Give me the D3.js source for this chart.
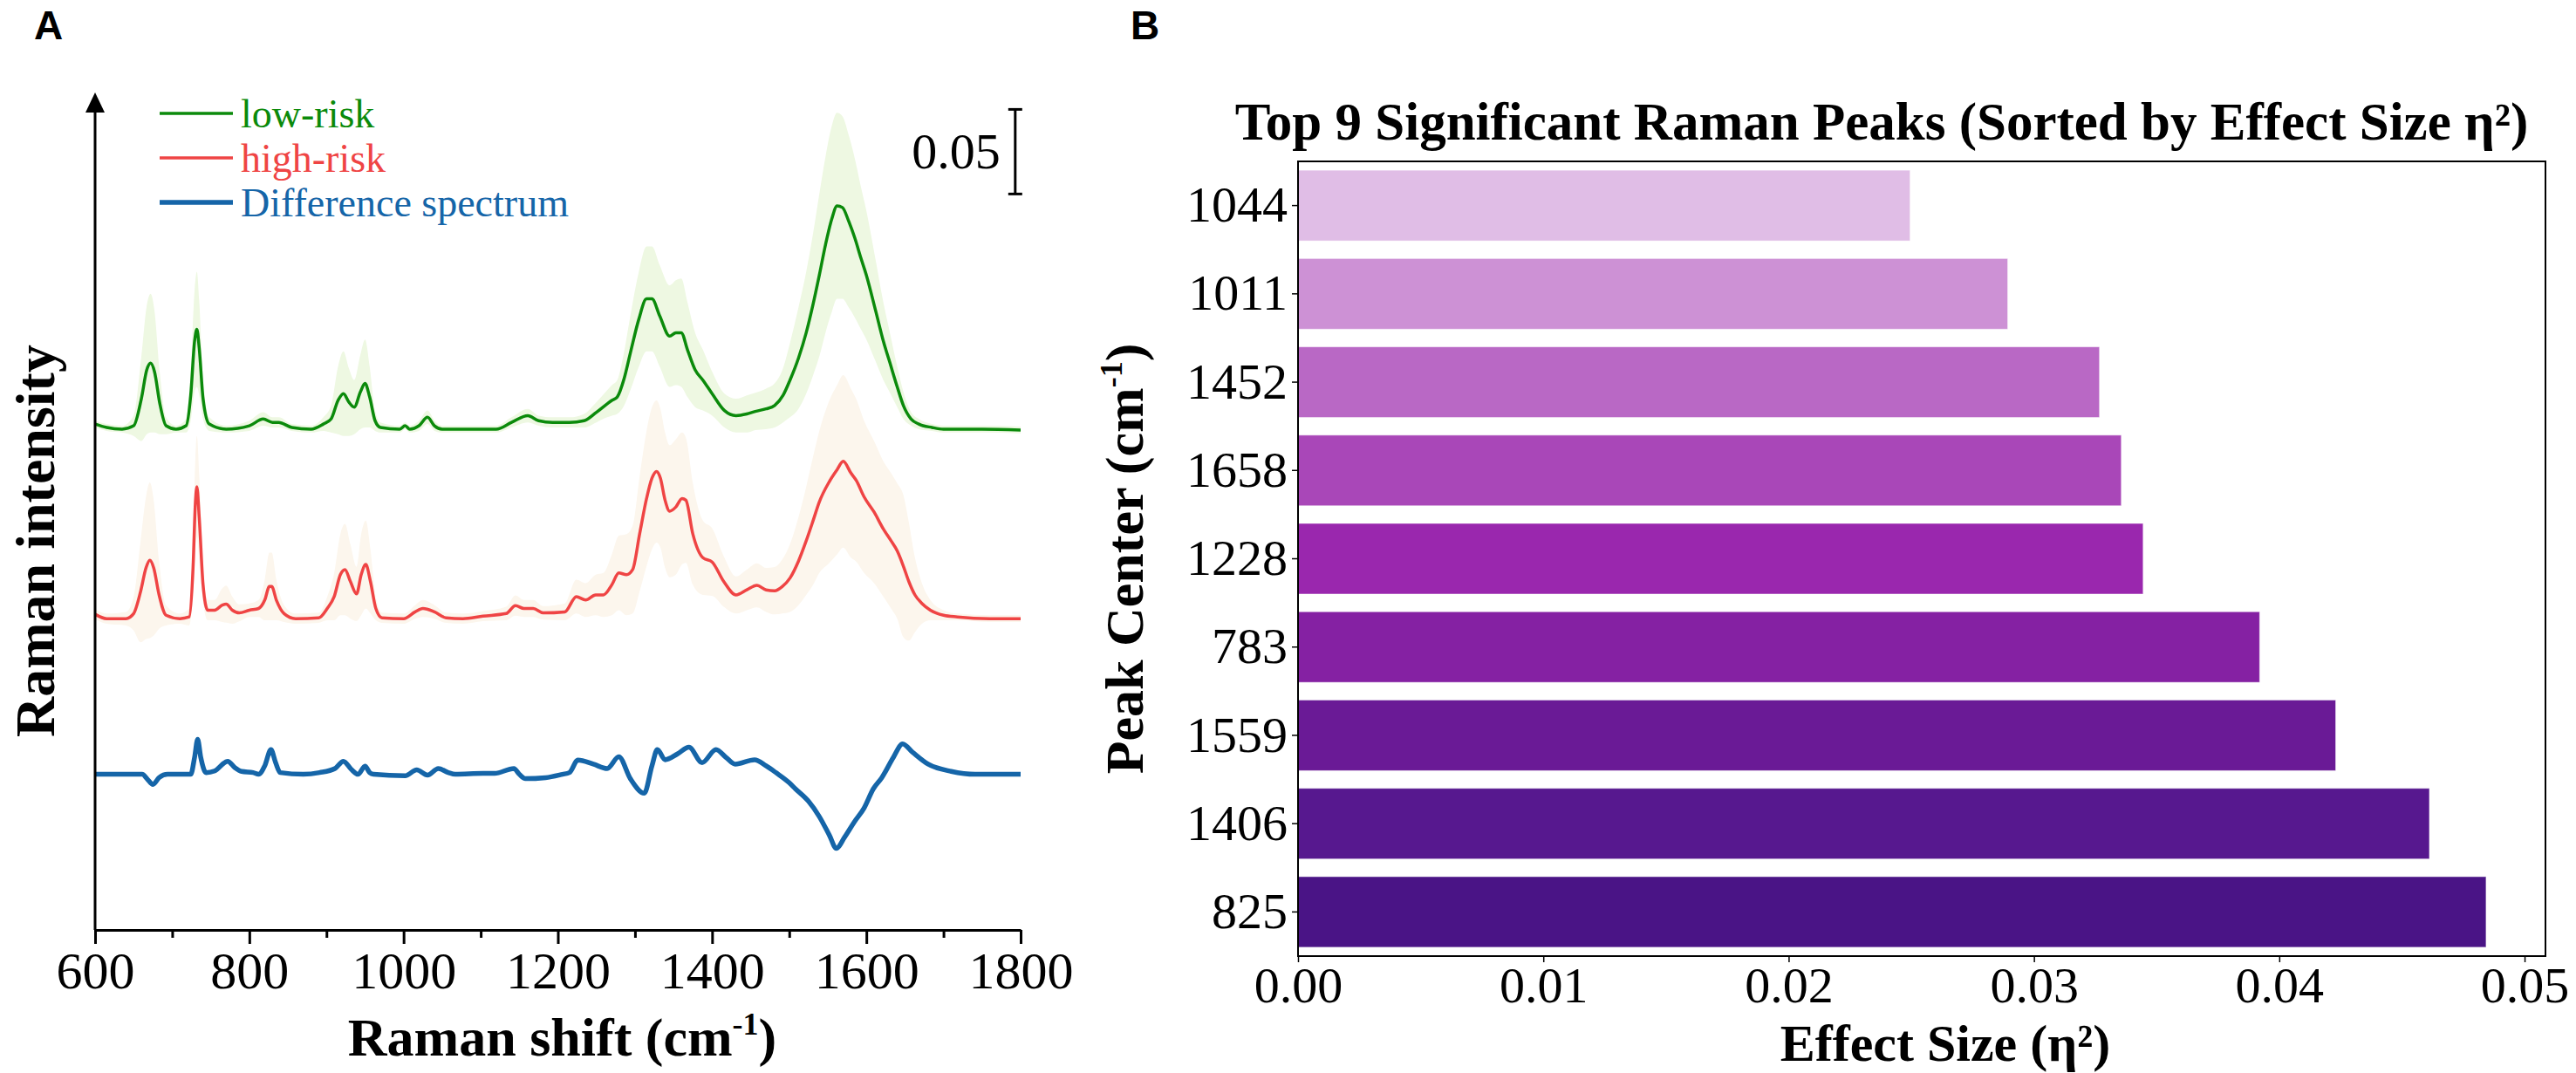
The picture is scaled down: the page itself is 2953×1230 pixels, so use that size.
<!DOCTYPE html>
<html>
<head>
<meta charset="utf-8">
<script src="https://cdn.jsdelivr.net/npm/d3@7/dist/d3.min.js"></script>
<style>
  body { margin: 0; background: #fff; }
  svg { display: block; }
  .serif { font-family: "Liberation Serif", "Times New Roman", serif; }
  .panel-tag { font-family: "Liberation Sans", Arial, sans-serif; font-weight: bold; font-size: 46px; }
</style>
</head>
<body>
<div id="chart"></div>
<script>
// Panel A: mean spectra [wavenumber, mean, sd]
const lowRisk = [
  [600, 0.003, 0.002], [615, 0.001, 0.002], [635, 0.0, 0.002], [650, 0.002, 0.006],
  [660, 0.018, 0.025], [667, 0.035, 0.038], [672, 0.039, 0.041], [677, 0.034, 0.036],
  [684, 0.015, 0.018], [692, 0.002, 0.005], [705, 0.0, 0.002], [718, 0.002, 0.004],
  [724, 0.02, 0.015], [729, 0.052, 0.03], [732, 0.059, 0.034], [735, 0.048, 0.028],
  [740, 0.018, 0.012], [748, 0.003, 0.004], [770, 0.0, 0.002], [800, 0.002, 0.003],
  [818, 0.006, 0.004], [830, 0.004, 0.003], [838, 0.004, 0.003], [855, 0.001, 0.002],
  [880, 0.0, 0.002], [896, 0.003, 0.004], [906, 0.006, 0.008], [915, 0.017, 0.02],
  [922, 0.021, 0.025], [929, 0.016, 0.02], [936, 0.013, 0.016], [944, 0.022, 0.022],
  [950, 0.027, 0.026], [956, 0.019, 0.018], [963, 0.005, 0.006], [970, 0.001, 0.003],
  [995, 0.0, 0.002], [1002, 0.002, 0.002], [1008, 0.0, 0.002], [1020, 0.002, 0.003],
  [1031, 0.007, 0.004], [1040, 0.002, 0.003], [1050, 0.0, 0.002], [1080, 0.0, 0.002],
  [1120, 0.0, 0.002], [1140, 0.004, 0.003], [1161, 0.008, 0.004], [1175, 0.005, 0.003],
  [1193, 0.004, 0.003], [1215, 0.004, 0.003], [1234, 0.005, 0.004], [1250, 0.01, 0.006],
  [1264, 0.015, 0.008], [1270, 0.017, 0.009], [1277, 0.019, 0.01], [1286, 0.03, 0.016],
  [1294, 0.045, 0.022], [1305, 0.065, 0.028], [1315, 0.077, 0.031], [1322, 0.077, 0.031],
  [1332, 0.067, 0.03], [1345, 0.055, 0.03], [1353, 0.057, 0.031], [1360, 0.057, 0.032],
  [1368, 0.047, 0.028], [1378, 0.035, 0.022], [1388, 0.029, 0.018], [1400, 0.021, 0.013],
  [1416, 0.011, 0.01], [1431, 0.008, 0.01], [1445, 0.009, 0.011], [1456, 0.0105, 0.011],
  [1470, 0.012, 0.012], [1481, 0.014, 0.013], [1492, 0.02, 0.016], [1501, 0.029, 0.022],
  [1512, 0.042, 0.03], [1522, 0.057, 0.036], [1531, 0.074, 0.042], [1539, 0.091, 0.048],
  [1547, 0.109, 0.052], [1555, 0.124, 0.055], [1562, 0.132, 0.055], [1569, 0.131, 0.054],
  [1577, 0.123, 0.051], [1585, 0.113, 0.047], [1593, 0.101, 0.042], [1600, 0.091, 0.038],
  [1612, 0.07, 0.03], [1622, 0.052, 0.023], [1630, 0.04, 0.018], [1640, 0.025, 0.012],
  [1648, 0.014, 0.008], [1658, 0.006, 0.004], [1668, 0.003, 0.003], [1685, 0.001, 0.002],
  [1700, 0.0, 0.002], [1750, 0.0, 0.002], [1800, -0.0005, 0.002]
];

const highRisk = [
  [600, 0.0026, 0.003], [615, 0.0, 0.003], [640, 0.0, 0.004], [650, 0.003, 0.01],
  [659, 0.016, 0.03], [666, 0.03, 0.042], [671, 0.0345, 0.046], [676, 0.03, 0.04],
  [683, 0.014, 0.02], [692, 0.002, 0.006], [710, 0.0, 0.003], [722, 0.001, 0.005],
  [727, 0.03, 0.015], [730, 0.068, 0.027], [732, 0.078, 0.03], [735, 0.06, 0.025],
  [740, 0.02, 0.01], [746, 0.005, 0.006], [755, 0.005, 0.006], [765, 0.008, 0.01],
  [770, 0.0086, 0.011], [778, 0.005, 0.008], [787, 0.0034, 0.005], [800, 0.005, 0.004],
  [812, 0.006, 0.005], [820, 0.011, 0.012], [826, 0.019, 0.02], [829, 0.019, 0.02],
  [835, 0.011, 0.012], [845, 0.003, 0.005], [860, 0.0, 0.003], [890, 0.0005, 0.003],
  [901, 0.006, 0.007], [910, 0.013, 0.014], [918, 0.026, 0.024], [924, 0.029, 0.027],
  [931, 0.022, 0.022], [939, 0.0146, 0.016], [945, 0.026, 0.024], [951, 0.032, 0.026],
  [957, 0.022, 0.019], [964, 0.006, 0.007], [972, 0.0005, 0.003], [1000, 0.0, 0.003],
  [1015, 0.004, 0.004], [1025, 0.006, 0.005], [1040, 0.004, 0.004], [1055, 0.0005, 0.003],
  [1077, 0.0, 0.003], [1103, 0.0015, 0.003], [1133, 0.003, 0.004], [1145, 0.0077, 0.006],
  [1156, 0.006, 0.005], [1168, 0.006, 0.005], [1181, 0.0034, 0.004], [1209, 0.004, 0.005],
  [1224, 0.013, 0.01], [1236, 0.011, 0.01], [1249, 0.014, 0.012], [1259, 0.014, 0.013],
  [1270, 0.02, 0.018], [1279, 0.027, 0.022], [1289, 0.026, 0.024], [1297, 0.029, 0.026],
  [1306, 0.05, 0.034], [1315, 0.071, 0.04], [1322, 0.083, 0.042], [1328, 0.087, 0.042],
  [1333, 0.083, 0.041], [1339, 0.07, 0.04], [1345, 0.0635, 0.039], [1353, 0.066, 0.04],
  [1361, 0.071, 0.039], [1366, 0.07, 0.037], [1375, 0.05, 0.03], [1388, 0.036, 0.022],
  [1400, 0.0335, 0.02], [1415, 0.022, 0.015], [1431, 0.014, 0.011], [1445, 0.017, 0.012],
  [1458, 0.0197, 0.013], [1470, 0.017, 0.013], [1481, 0.0165, 0.014], [1491, 0.019, 0.016],
  [1501, 0.024, 0.02], [1512, 0.034, 0.026], [1522, 0.046, 0.032], [1531, 0.058, 0.038],
  [1539, 0.069, 0.042], [1552, 0.081, 0.048], [1562, 0.088, 0.05], [1570, 0.093, 0.051],
  [1580, 0.086, 0.05], [1587, 0.0816, 0.048], [1597, 0.072, 0.045], [1610, 0.063, 0.042],
  [1622, 0.053, 0.04], [1632, 0.046, 0.04], [1640, 0.04, 0.04], [1648, 0.031, 0.042],
  [1655, 0.022, 0.035], [1663, 0.014, 0.022], [1672, 0.009, 0.012], [1683, 0.005, 0.006],
  [1700, 0.002, 0.003], [1718, 0.001, 0.002], [1760, 0.0, 0.002], [1800, 0.0, 0.002]
];

// difference spectrum [wavenumber, value]
const diffSpectrum = [
  [600, 0], [650, 0], [661, 0], [668, -0.003], [675, -0.006], [683, -0.002], [694, 0],
  [724, 0], [729, 0.01], [733, 0.0206], [737, 0.01], [744, 0.001], [755, 0.002],
  [772, 0.0077], [781, 0.004], [790, 0.0017], [805, 0.001], [812, 0.0], [820, 0.005],
  [828, 0.0146], [834, 0.007], [840, 0.001], [870, 0.0], [891, 0.001], [911, 0.0034],
  [922, 0.0077], [932, 0.003], [941, 0.0], [950, 0.0048], [956, 0.001], [961, 0],
  [1002, -0.0009], [1017, 0.0026], [1031, -0.0005], [1045, 0.0034], [1058, 0.001],
  [1067, 0], [1103, 0.0005], [1118, 0.0005], [1143, 0.0034], [1150, 0.0], [1158, -0.0026],
  [1184, -0.002], [1206, 0], [1215, 0.001], [1226, 0.0084], [1246, 0.006], [1264, 0.0034],
  [1279, 0.0103], [1294, -0.0026], [1312, -0.0112], [1322, 0.005], [1329, 0.0146],
  [1339, 0.0086], [1355, 0.012], [1370, 0.016], [1387, 0.0069], [1405, 0.0146],
  [1418, 0.01], [1430, 0.006], [1455, 0.0086], [1470, 0.005], [1483, 0.0009],
  [1500, -0.005], [1508, -0.0086], [1525, -0.016], [1539, -0.025], [1552, -0.036],
  [1561, -0.0438], [1572, -0.037], [1584, -0.0284], [1597, -0.02], [1609, -0.0086],
  [1620, -0.002], [1635, 0.01], [1647, 0.018], [1660, 0.013], [1680, 0.006],
  [1710, 0.0017], [1741, 0], [1800, 0]
];

const seriesNames = ["low-risk", "high-risk", "Difference spectrum"];
const seriesColors = ["#0b8a0b", "#ef4444", "#1565a8"];
const bandColors = ["#eef8e2", "#fcf6ed"];
const seriesOffsets = [0.204, 0.092, 0];   // vertical stacking of the spectra
const xTicksA = [600, 800, 1000, 1200, 1400, 1600, 1800];

// Panel B: top 9 peaks, top to bottom as drawn
const peakLabels = ["1044", "1011", "1452", "1658", "1228", "783", "1559", "1406", "825"];
const effectSizes = [0.02495, 0.02893, 0.03267, 0.03356, 0.03445, 0.0392, 0.0423, 0.04612, 0.04843];
const barColors = ["#e0bde6", "#cd91d5", "#b968c5", "#a947b8", "#9a27ae", "#8521a3", "#6a1a96", "#57188f", "#4a1486"];
const xTicksB = [0, 0.01, 0.02, 0.03, 0.04, 0.05];

const W = 2953, H = 1230;
const svg = d3.select('#chart').append('svg')
    .attr('width', W)
    .attr('height', H)
    .attr('class', 'serif');

// ---------- Panel A ----------
const xA = d3.scaleLinear().domain([600, 1800]).range([109, 1170]);
const yA = d3.scaleLinear().domain([-0.092, 0.403]).range([1066, 106]);
const gA = svg.append('g');

svg.append('text').attr('class', 'panel-tag').attr('x', 39).attr('y', 45).text('A');

[lowRisk, highRisk].forEach((s, i) => {
    const off = seriesOffsets[i];
    gA.append('path')
        .datum(s)
        .attr('fill', bandColors[i])
        .attr('d', d3.area()
            .x(d => xA(d[0]))
            .y0(d => yA(d[1] - d[2] + off))
            .y1(d => yA(d[1] + d[2] + off))
            .curve(d3.curveMonotoneX));
});

const lineFor = off => d3.line()
    .x(d => xA(d[0]))
    .y(d => yA(d[1] + off))
    .curve(d3.curveMonotoneX);

[lowRisk, highRisk, diffSpectrum].forEach((s, i) => {
    gA.append('path')
        .datum(s)
        .attr('fill', 'none')
        .attr('stroke', seriesColors[i])
        .attr('stroke-width', i === 2 ? 5.5 : 3.5)
        .attr('stroke-linejoin', 'round')
        .attr('d', lineFor(seriesOffsets[i]));
});

// axes
const xAxisA = gA.append('g')
    .attr('transform', `translate(0,${yA.range()[0]})`)
    .call(d3.axisBottom(xA).tickValues(xTicksA).tickFormat(d3.format('d'))
        .tickSize(16).tickPadding(8).tickSizeOuter(0))
    .attr('font-family', null);
xAxisA.select('.domain').attr('stroke-width', 3);
xAxisA.selectAll('.tick line').attr('stroke-width', 3);
xAxisA.selectAll('.tick text').attr('font-size', 60);

const minorTicks = d3.range(700, 1800, 200);
gA.append('g')
    .attr('transform', `translate(0,${yA.range()[0]})`)
    .call(d3.axisBottom(xA).tickValues(minorTicks).tickSize(9).tickFormat(''))
    .call(g => g.select('.domain').remove())
    .selectAll('.tick line').attr('stroke-width', 3);

// y axis with arrow head
gA.append('line')
    .attr('x1', xA(600)).attr('x2', xA(600))
    .attr('y1', yA.range()[0]).attr('y2', yA.range()[1] + 10)
    .attr('stroke', '#000').attr('stroke-width', 3);
gA.append('path')
    .attr('d', d3.line()([[xA(600), yA.range()[1]], [xA(600) - 11, yA.range()[1] + 23], [xA(600) + 11, yA.range()[1] + 23]]) + 'Z')
    .attr('fill', '#000');

gA.append('text')
    .attr('transform', `translate(62,620) rotate(-90)`)
    .attr('text-anchor', 'middle')
    .attr('font-weight', 'bold')
    .attr('font-size', 64)
    .text('Raman intensity');

const xLabA = gA.append('text')
    .attr('x', (xA.range()[0] + xA.range()[1]) / 2 + 5)
    .attr('y', 1210)
    .attr('text-anchor', 'middle')
    .attr('font-weight', 'bold')
    .attr('font-size', 62);
xLabA.append('tspan').text('Raman shift (cm');
xLabA.append('tspan').attr('font-size', 36).attr('dy', -24).text('-1');
xLabA.append('tspan').attr('dy', 24).text(')');

// scale bar: 0.05 intensity units
const barWn = 1793, barBottom = 0.343, barValue = 0.05;
const sb = gA.append('g').attr('stroke', '#000').attr('stroke-width', 3);
sb.append('line').attr('x1', xA(barWn)).attr('x2', xA(barWn)).attr('y1', yA(barBottom)).attr('y2', yA(barBottom + barValue));
sb.append('line').attr('x1', xA(barWn) - 8).attr('x2', xA(barWn) + 8).attr('y1', yA(barBottom)).attr('y2', yA(barBottom));
sb.append('line').attr('x1', xA(barWn) - 8).attr('x2', xA(barWn) + 8).attr('y1', yA(barBottom + barValue)).attr('y2', yA(barBottom + barValue));
gA.append('text')
    .attr('x', xA(barWn) - 17)
    .attr('y', 193)
    .attr('text-anchor', 'end')
    .attr('font-size', 58)
    .text(barValue.toFixed(2));

// legend
const legend = gA.append('g');
seriesNames.forEach((name, i) => {
    const ly = 130 + i * 51;
    legend.append('line')
        .attr('x1', 183).attr('x2', 267).attr('y1', ly).attr('y2', ly)
        .attr('stroke', seriesColors[i]).attr('stroke-width', i === 2 ? 5.5 : 3.5);
    legend.append('text')
        .attr('x', 276).attr('y', ly + 16)
        .attr('font-size', 46)
        .attr('fill', seriesColors[i])
        .text(name);
});

// ---------- Panel B ----------
const xB = d3.scaleLinear().domain([0, d3.max(effectSizes) * 1.05]).range([1488, 2918]);
const yB = d3.scaleBand().domain(peakLabels).range([185, 1096]).paddingInner(0.2).paddingOuter(0.1);
const gB = svg.append('g');

svg.append('text').attr('class', 'panel-tag').attr('x', 1296).attr('y', 45).text('B');

gB.selectAll('rect.bar')
    .data(peakLabels)
    .enter().append('rect')
    .attr('class', 'bar')
    .attr('x', xB(0))
    .attr('y', d => yB(d))
    .attr('width', (d, i) => xB(effectSizes[i]) - xB(0))
    .attr('height', yB.bandwidth())
    .attr('fill', (d, i) => barColors[i])
    .attr('stroke', '#ffffff')
    .attr('stroke-opacity', 0.5)
    .attr('stroke-width', 1);

gB.append('rect')
    .attr('x', xB.range()[0]).attr('y', yB.range()[0])
    .attr('width', xB.range()[1] - xB.range()[0])
    .attr('height', yB.range()[1] - yB.range()[0])
    .attr('fill', 'none').attr('stroke', '#000').attr('stroke-width', 2);

const yAxisB = gB.append('g')
    .attr('transform', `translate(${xB.range()[0]},0)`)
    .call(d3.axisLeft(yB).tickSize(7).tickPadding(5).tickSizeOuter(0))
    .attr('font-family', null);
yAxisB.select('.domain').remove();
yAxisB.selectAll('.tick line').attr('stroke-width', 1.5);
yAxisB.selectAll('.tick text').attr('font-size', 58);

const xAxisB = gB.append('g')
    .attr('transform', `translate(0,${yB.range()[1]})`)
    .call(d3.axisBottom(xB).tickValues(xTicksB).tickFormat(d3.format('.2f'))
        .tickSize(7).tickPadding(5).tickSizeOuter(0))
    .attr('font-family', null);
xAxisB.select('.domain').remove();
xAxisB.selectAll('.tick line').attr('stroke-width', 1.5);
xAxisB.selectAll('.tick text').attr('font-size', 58);

gB.append('text')
    .attr('x', 2157).attr('y', 160)
    .attr('text-anchor', 'middle')
    .attr('font-weight', 'bold')
    .attr('font-size', 61)
    .text('Top 9 Significant Raman Peaks (Sorted by Effect Size η²)');

gB.append('text')
    .attr('x', 2230).attr('y', 1216)
    .attr('text-anchor', 'middle')
    .attr('font-weight', 'bold')
    .attr('font-size', 60)
    .text('Effect Size (η²)');

const yLabB = gB.append('text')
    .attr('transform', `translate(1310,${(yB.range()[0] + yB.range()[1]) / 2}) rotate(-90)`)
    .attr('text-anchor', 'middle')
    .attr('font-weight', 'bold')
    .attr('font-size', 62);
yLabB.append('tspan').text('Peak Center (cm');
yLabB.append('tspan').attr('font-size', 36).attr('dy', -24).text('-1');
yLabB.append('tspan').attr('dy', 24).text(')');
</script>
</body>
</html>
